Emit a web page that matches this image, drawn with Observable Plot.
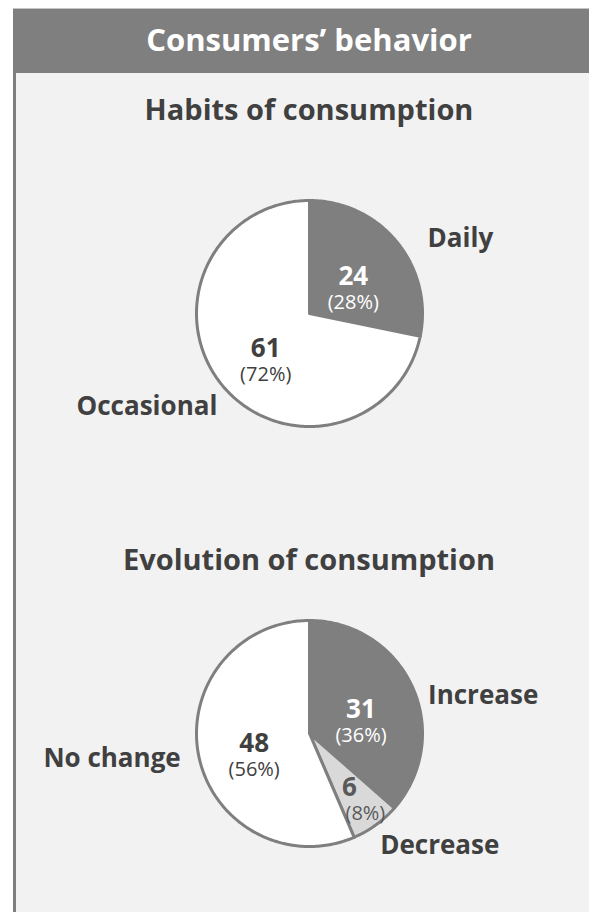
<!DOCTYPE html>
<html>
<head>
<meta charset="utf-8">
<script src="https://cdn.jsdelivr.net/npm/d3@7"></script>
<script src="https://cdn.jsdelivr.net/npm/@observablehq/plot@0.6"></script>
<style>
  html, body { margin: 0; padding: 0; background: #ffffff; }
  body { width: 589px; height: 912px; position: relative; overflow: hidden; font-family: "Open Sans", sans-serif; }
  #panel { position: absolute; left: 13px; top: 8px; width: 576px; height: 904px; background: #f2f2f2; border-left: 3px solid #7f7f7f; box-sizing: border-box; }
  #header { position: absolute; left: 13px; top: 8px; width: 576px; height: 65px; background: #7f7f7f; border-top: 1px solid #c4c4c4; box-sizing: border-box; }
  .title { position: absolute; left: 0; width: 618px; text-align: center; font-weight: bold; line-height: 1; white-space: nowrap; }
  #t1 { top: 24px; font-size: 31px; color: #ffffff; }
  #t2 { top: 94px; font-size: 29px; color: #404040; }
  #t3 { top: 544px; font-size: 29px; color: #404040; }
  .chart { position: absolute; left: 0; }
  #pie1 { top: 160px; }
  #pie2 { top: 600px; }
</style>
</head>
<body>
<div id="panel"></div>
<div id="header"></div>
<div class="title" id="t1">Consumers’ behavior</div>
<div class="title" id="t2">Habits of consumption</div>
<div class="title" id="t3">Evolution of consumption</div>
<div class="chart" id="pie1"></div>
<div class="chart" id="pie2"></div>
<script>
// ---- data ----
const habitsCategories = ["Daily", "Occasional"];
const habitsValues = [24, 61];
const habitsShares = ["28%", "72%"];

const evolutionCategories = ["Increase", "Decrease", "No change"];
const evolutionValues = [31, 6, 48];
const evolutionShares = ["36%", "8%", "56%"];

// ---- style / layout ----
const sliceFill = { "Daily": "#7f7f7f", "Occasional": "#ffffff", "Increase": "#7f7f7f", "Decrease": "#d9d9d9", "No change": "#ffffff" };
const numberColor = { "Daily": "#ffffff", "Occasional": "#404040", "Increase": "#ffffff", "Decrease": "#595959", "No change": "#404040" };
const labelNudge = { "Daily": [13, 11], "Occasional": [13, 8], "Increase": [-5, 18], "No change": [4, -2], "Decrease": [-9, 2] };
const R = 113;          // pie radius in px
const CX = 309;         // pie center x in px
const FONT = "Open Sans";

function buildPie(categories, values, shares) {
  const arcs = d3.pie().sort(null).value(d => d)(values);
  const slices = arcs.map((a, i) => ({
    category: categories[i], value: values[i], share: shares[i],
    start: a.startAngle, end: a.endAngle, mid: (a.startAngle + a.endAngle) / 2,
    small: values[i] / d3.sum(values) < 0.1
  }));
  const outline = [];
  for (const s of slices) {
    outline.push({ category: s.category, x: 0, y: 0 });
    const n = Math.max(2, Math.ceil((s.end - s.start) / (Math.PI / 180)));
    for (let k = 0; k <= n; k++) {
      const a = s.start + (s.end - s.start) * k / n;
      outline.push({ category: s.category, x: Math.sin(a), y: Math.cos(a) });
    }
  }
  return { slices, outline };
}

function drawPie(categories, values, shares, cyLocal, h) {
  const { slices, outline } = buildPie(categories, values, shares);
  const inR = d => d.small ? 0.6 : 0.5;
  const outR = 1.2;
  const lx = d => outR * Math.sin(d.mid) + labelNudge[d.category][0] / R;
  const ly = d => outR * Math.cos(d.mid) - labelNudge[d.category][1] / R;
  const ix = d => inR(d) * Math.sin(d.mid);
  const iy = d => inR(d) * Math.cos(d.mid);
  return Plot.plot({
    width: 589, height: h, margin: 0,
    style: { background: "transparent", overflow: "visible" },
    x: { domain: [-1, 1], range: [CX - R, CX + R], axis: null },
    y: { domain: [-1, 1], range: [cyLocal + R, cyLocal - R], axis: null },
    color: { type: "identity" },
    marks: [
      Plot.line(outline, { x: "x", y: "y", z: "category", fill: d => sliceFill[d.category],
        stroke: "#7f7f7f", strokeWidth: 3, strokeLinejoin: "round", curve: "linear-closed" }),
      Plot.text(slices, { x: ix, y: iy, text: d => String(d.value), fill: d => numberColor[d.category],
        dy: -1, fontSize: 26, fontWeight: "bold", fontFamily: FONT }),
      Plot.text(slices, { x: ix, y: iy, text: d => "(" + d.share + ")", fill: d => numberColor[d.category],
        dy: 25, fontSize: 20, fontWeight: "normal", fontFamily: FONT, filter: d => !d.small }),
      Plot.text(slices, { x: ix, y: iy, text: d => "(" + d.share + ")", fill: d => numberColor[d.category],
        dx: 16, dy: 25, fontSize: 20, fontWeight: "normal", fontFamily: FONT, filter: d => d.small }),
      Plot.text(slices, { filter: d => Math.sin(d.mid) >= 0, x: lx, y: ly, text: "category",
        textAnchor: "start", fill: "#404040", fontSize: 26, fontWeight: "bold", fontFamily: FONT }),
      Plot.text(slices, { filter: d => Math.sin(d.mid) < 0, x: lx, y: ly, text: "category",
        textAnchor: "end", fill: "#404040", fontSize: 26, fontWeight: "bold", fontFamily: FONT })
    ]
  });
}

document.getElementById("pie1").appendChild(drawPie(habitsCategories, habitsValues, habitsShares, 153, 300));
document.getElementById("pie2").appendChild(drawPie(evolutionCategories, evolutionValues, evolutionShares, 133, 300));
</script>
</body>
</html>
